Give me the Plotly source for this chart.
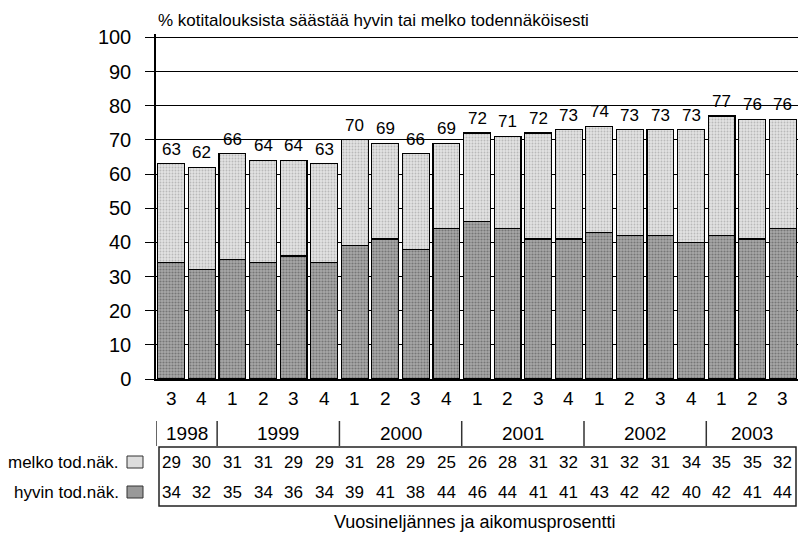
import plotly.graph_objects as go

# Quarters 1998 Q3 - 2003 Q3
quarters = ["3", "4", "1", "2", "3", "4", "1", "2", "3", "4", "1", "2", "3", "4",
            "1", "2", "3", "4", "1", "2", "3"]
years = ["1998", "1999", "2000", "2001", "2002", "2003"]
year_counts = [2, 4, 4, 4, 4, 3]

# Share of households saving "quite likely" / "very likely" (%)
melko = [29, 30, 31, 31, 29, 29, 31, 28, 29, 25, 26, 28, 31, 32, 31, 32, 31, 34, 35, 35, 32]
hyvin = [34, 32, 35, 34, 36, 34, 39, 41, 38, 44, 46, 44, 41, 41, 43, 42, 42, 40, 42, 41, 44]
total = [63, 62, 66, 64, 64, 63, 70, 69, 66, 69, 72, 71, 72, 73, 74, 73, 73, 73, 77, 76, 76]

FONT = "Liberation Sans Narrow, Arial Narrow, Liberation Sans, sans-serif"
LIGHT_BG, LIGHT_FG = "#e2e2e2", "#8f8f8f"
DARK_BG, DARK_FG = "#a8a8a8", "#444444"

W, H = 798, 535
ML, MR, MT, MB = 156, 0, 34, 156
plot_w = W - ML - MR
plot_h = H - MT - MB


def py(pix):
    """Convert a pixel row to paper y."""
    return (H - MB - pix) / plot_h


def px(pix):
    """Convert a pixel column to paper x."""
    return (pix - ML) / plot_w


idx = list(range(len(quarters)))
upper = [t - h for t, h in zip(total, hyvin)]

fig = go.Figure()
fig.add_trace(go.Bar(
    x=idx, y=hyvin, name="hyvin tod.näk.",
    marker=dict(color=DARK_BG, line=dict(color="black", width=1.2),
                pattern=dict(shape=".", fgcolor=DARK_FG, bgcolor=DARK_BG,
                             size=3, solidity=0.4)),
    hoverinfo="skip",
))
fig.add_trace(go.Bar(
    x=idx, y=upper, name="melko tod.näk.",
    marker=dict(color=LIGHT_BG, line=dict(color="black", width=1.2),
                pattern=dict(shape=".", fgcolor=LIGHT_FG, bgcolor=LIGHT_BG,
                             size=3, solidity=0.3)),
    hoverinfo="skip",
))

annotations = []
shapes = []

# Totals above the bars
for i, t in enumerate(total):
    annotations.append(dict(x=i, y=t, xref="x", yref="y", text=str(t),
                            showarrow=False, yanchor="bottom", yshift=3,
                            font=dict(size=17, color="black", family=FONT)))

# Quarter labels
for i, q in enumerate(quarters):
    annotations.append(dict(x=i, y=py(398), xref="x", yref="paper", text=q,
                            showarrow=False, yanchor="middle",
                            font=dict(size=19, color="black", family=FONT)))

# Year labels with separators
start = 0
for yr, n in zip(years, year_counts):
    annotations.append(dict(x=start + (n - 1) / 2, y=py(433), xref="x", yref="paper",
                            text=yr, showarrow=False, yanchor="middle",
                            font=dict(size=19, color="black", family=FONT)))
    shapes.append(dict(type="line", xref="x", yref="paper",
                       x0=start - 0.5, x1=start - 0.5, y0=py(421), y1=py(446),
                       line=dict(color="#333", width=1.5)))
    start += n

# Data table
shapes.append(dict(type="rect", xref="x", yref="paper",
                   x0=-0.5 + 3 / 30.6, x1=20.5 - 2 / 30.6, y0=py(506), y1=py(447),
                   line=dict(color="#222", width=1.5), fillcolor="rgba(0,0,0,0)"))
for i in idx:
    annotations.append(dict(x=i, y=py(462), xref="x", yref="paper", text=str(melko[i]),
                            showarrow=False, yanchor="middle",
                            font=dict(size=17, color="black", family=FONT)))
    annotations.append(dict(x=i, y=py(492), xref="x", yref="paper", text=str(hyvin[i]),
                            showarrow=False, yanchor="middle",
                            font=dict(size=17, color="black", family=FONT)))

# Row labels with legend swatches
for label, ypix, fill in [("melko tod.näk.", 462, "#dddddd"), ("hyvin tod.näk.", 492, "#999999")]:
    annotations.append(dict(x=px(121), y=py(ypix), xref="paper", yref="paper", text=label,
                            showarrow=False, xanchor="right", yanchor="middle",
                            font=dict(size=17, color="black", family=FONT)))
    shapes.append(dict(type="rect", xref="paper", yref="paper",
                       x0=px(127), x1=px(143), y0=py(ypix + 6), y1=py(ypix - 6),
                       line=dict(color="#333", width=1), fillcolor=fill))

# Axis title and chart heading
annotations.append(dict(x=px(475), y=py(522), xref="paper", yref="paper",
                        text="Vuosineljännes ja aikomusprosentti", showarrow=False,
                        yanchor="middle", font=dict(size=18, color="black", family=FONT)))
annotations.append(dict(x=px(156), y=py(20), xref="paper", yref="paper",
                        text="% kotitalouksista säästää hyvin tai melko todennäköisesti",
                        showarrow=False, xanchor="left", yanchor="middle",
                        font=dict(size=17, color="black", family=FONT)))

fig.update_layout(
    width=W, height=H,
    margin=dict(l=ML, r=MR, t=MT, b=MB, pad=0),
    barmode="stack", bargap=0.12,
    plot_bgcolor="white", paper_bgcolor="white",
    showlegend=False,
    annotations=annotations, shapes=shapes,
    xaxis=dict(range=[-0.5, 20.5], showticklabels=False, ticks="",
               showgrid=False, zeroline=False,
               showline=True, linecolor="black", linewidth=1.5, fixedrange=True),
    yaxis=dict(range=[0, 101], tickvals=list(range(0, 101, 10)),
               showgrid=True, gridcolor="black", gridwidth=1.2,
               ticks="outside", ticklen=9, tickcolor="black", tickwidth=1.2,
               ticklabelstandoff=10,
               showline=True, linecolor="black", linewidth=1.5,
               zeroline=False,
               tickfont=dict(size=20, color="black", family=FONT),
               fixedrange=True),
)

fig.write_html("out.html")
